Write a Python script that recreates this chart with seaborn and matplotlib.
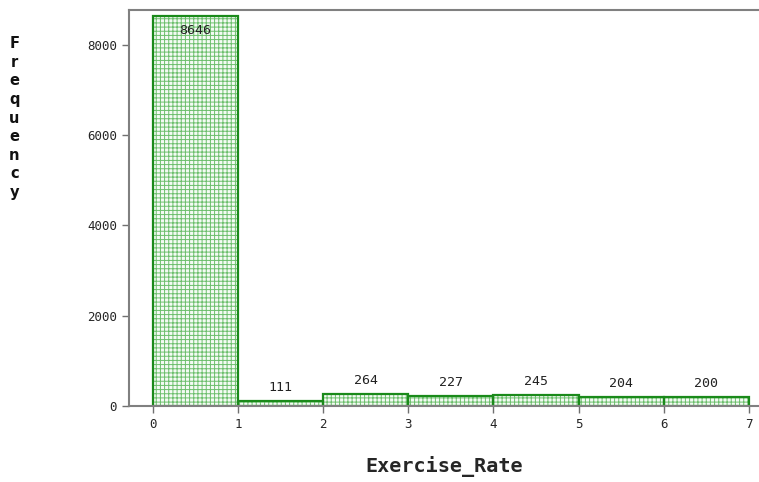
import numpy as np
import matplotlib
matplotlib.use("Agg")
import matplotlib.pyplot as plt
import seaborn as sns

bin_edges = [0, 1, 2, 3, 4, 5, 6, 7]
counts = [8646, 111, 264, 227, 245, 204, 200]
y_ticks = [0, 2000, 4000, 6000, 8000]

sns.set_style("white")
plt.rcParams['font.family'] = ['DejaVu Sans']
plt.rcParams['hatch.linewidth'] = 0.7
plt.rcParams['hatch.color'] = '#6cbf6c'

mids = [(a + b) / 2 for a, b in zip(bin_edges[:-1], bin_edges[1:])]

fig = plt.figure(figsize=(7.59, 4.82), dpi=100)
ax = fig.add_axes([0.170, 0.158, 0.83, 0.821])

# dotted fill layer
sns.histplot(x=mids, weights=counts, bins=bin_edges, ax=ax,
             color='#f4fbf4', edgecolor='#6cbf6c', linewidth=0, alpha=1)
for p in ax.patches:
    p.set_hatch('++++')
    p.set_facecolor('#f4fbf4')
    p.set_edgecolor('#6cbf6c')
# outline layer
sns.histplot(x=mids, weights=counts, bins=bin_edges, ax=ax, fill=False,
             color='#1a8a1a', linewidth=1.6)

for m, c in zip(mids, counts):
    if c > 4000:
        ax.text(m, c - 180, str(c), ha='center', va='top', fontsize=9.5,
                family='DejaVu Sans Mono', color='#222222')
    else:
        ax.text(m, c + 150, str(c), ha='center', va='bottom', fontsize=9.5,
                family='DejaVu Sans Mono', color='#222222')

ax.set_xlim(-0.28, 7.12)
ax.set_ylim(0, 8776)
ax.set_xticks(bin_edges)
ax.set_yticks(y_ticks)
ax.tick_params(axis='both', labelsize=9, length=5, width=1, color='#707070',
               direction='out', bottom=True, left=True)
for lbl in ax.get_xticklabels() + ax.get_yticklabels():
    lbl.set_family('DejaVu Sans Mono')
for s in ['left', 'bottom', 'top']:
    ax.spines[s].set_color('#808080')
    ax.spines[s].set_linewidth(1.5)
ax.spines['right'].set_visible(False)

ax.set_xlabel('Exercise_Rate', fontsize=14.5, fontweight='bold',
              family='DejaVu Sans Mono', labelpad=18)
ax.set_ylabel('')
fig.text(0.019, 0.925, '\n'.join('Frequency'), ha='center', va='top',
         fontsize=10.5, fontweight='bold', linespacing=1.3, color='#111111')

fig.savefig('out.png', dpi=100)
